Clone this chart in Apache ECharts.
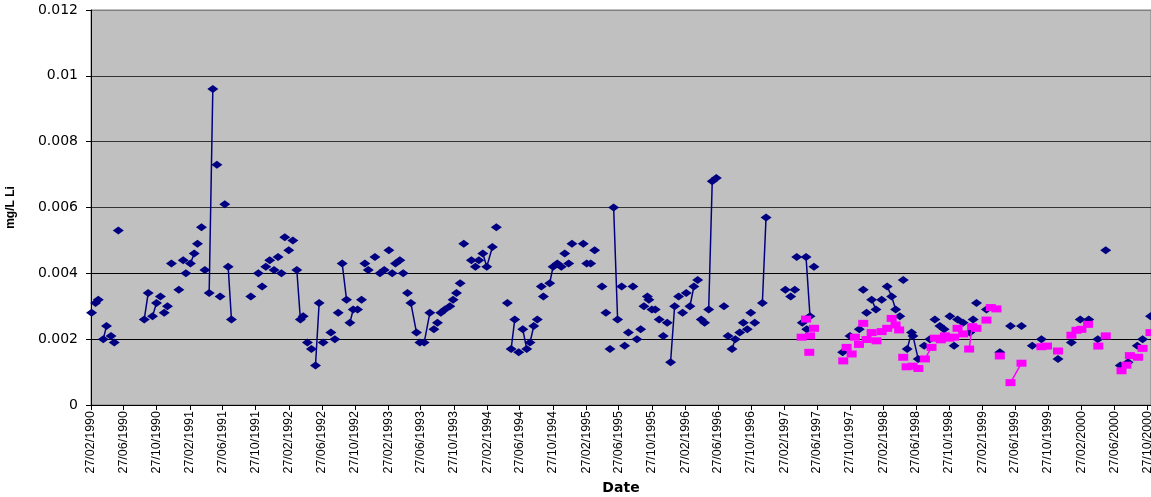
<!DOCTYPE html>
<html>
<head>
<meta charset="UTF-8">
<title>mg/L Li</title>
<script type="text/javascript" src="https://cdn.jsdelivr.net/npm/echarts@6/dist/echarts.min.js"></script>
</head>
<body style="margin: 0; overflow: hidden;">
<div id="container" style="width: 1151px; height: 497px;"></div>
<script type="text/javascript">
// sampling dates as decimal years, concentrations in mg/L Li
var navyYears = [
  1990.162, 1990.202, 1990.230, 1990.280, 1990.313, 1990.358, 1990.391, 1990.432, 1990.694, 1990.734,
  1990.778, 1990.818, 1990.858, 1990.896, 1990.929, 1990.969, 1991.044, 1991.088, 1991.115, 1991.161,
  1991.199, 1991.232, 1991.272, 1991.307, 1991.350, 1991.387, 1991.428, 1991.461, 1991.508, 1991.542,
  1991.575, 1991.771, 1991.847, 1991.885, 1991.922, 1991.962, 1992.006, 1992.046, 1992.080, 1992.114,
  1992.154, 1992.195, 1992.235, 1992.271, 1992.299, 1992.342, 1992.382, 1992.423, 1992.460, 1992.500,
  1992.578, 1992.618, 1992.652, 1992.692, 1992.736, 1992.770, 1992.803, 1992.847, 1992.887, 1992.921,
  1992.955, 1993.022, 1993.073, 1993.116, 1993.163, 1993.197, 1993.230, 1993.274, 1993.308, 1993.351,
  1993.385, 1993.442, 1993.476, 1993.520, 1993.577, 1993.618, 1993.654, 1993.688, 1993.729, 1993.779,
  1993.812, 1993.846, 1993.883, 1993.920, 1993.997, 1994.037, 1994.072, 1994.112, 1994.152, 1994.209,
  1994.249, 1994.360, 1994.398, 1994.435, 1994.475, 1994.516, 1994.556, 1994.589, 1994.627, 1994.663,
  1994.703, 1994.724, 1994.788, 1994.822, 1994.865, 1994.905, 1994.940, 1994.980, 1995.013, 1995.127,
  1995.162, 1995.202, 1995.242, 1995.316, 1995.356, 1995.397, 1995.434, 1995.474, 1995.515, 1995.545,
  1995.583, 1995.629, 1995.669, 1995.707, 1995.740, 1995.775, 1995.790, 1995.821, 1995.854, 1995.894,
  1995.935, 1995.975, 1996.009, 1996.050, 1996.090, 1996.130, 1996.167, 1996.204, 1996.244, 1996.282,
  1996.318, 1996.352, 1996.393, 1996.429, 1996.470, 1996.547, 1996.588, 1996.628, 1996.661, 1996.706,
  1996.742, 1996.782, 1996.817, 1996.857, 1996.934, 1996.971, 1997.166, 1997.220, 1997.261, 1997.281,
  1997.337, 1997.382, 1997.375, 1997.415, 1997.455, 1997.745, 1997.819, 1997.913, 1997.953, 1997.987,
  1998.038, 1998.081, 1998.139, 1998.195, 1998.240, 1998.280, 1998.323, 1998.357, 1998.397, 1998.441,
  1998.455, 1998.508, 1998.569, 1998.626, 1998.677, 1998.727, 1998.770, 1998.828, 1998.871, 1998.906,
  1998.962, 1999.030, 1999.063, 1999.097, 1999.198, 1999.333, 1999.441, 1999.552, 1999.661, 1999.753,
  1999.921, 2000.056, 2000.145, 2000.231, 2000.322, 2000.402, 2000.549, 2000.627, 2000.720, 2000.773,
  2000.853
];
var navyValues = [
  0.0028, 0.0031, 0.0032, 0.0020, 0.0024, 0.0021, 0.0019, 0.0053, 0.0026, 0.0034,
  0.0027, 0.0031, 0.0033, 0.0028, 0.0030, 0.0043, 0.0035, 0.0044, 0.0040, 0.0043,
  0.0046, 0.0049, 0.0054, 0.0041, 0.0034, 0.0096, 0.0073, 0.0033, 0.0061, 0.0042,
  0.0026, 0.0033, 0.0040, 0.0036, 0.0042, 0.0044, 0.0041, 0.0045, 0.0040, 0.0051,
  0.0047, 0.0050, 0.0041, 0.0026, 0.0027, 0.0019, 0.0017, 0.0012, 0.0031, 0.0019,
  0.0022, 0.0020, 0.0028, 0.0043, 0.0032, 0.0025, 0.0029, 0.0029, 0.0032, 0.0043,
  0.0041, 0.0045, 0.0040, 0.0041, 0.0047, 0.0040, 0.0043, 0.0044, 0.0040, 0.0034,
  0.0031, 0.0022, 0.0019, 0.0019, 0.0028, 0.0023, 0.0025, 0.0028, 0.0029, 0.0030,
  0.0032, 0.0034, 0.0037, 0.0049, 0.0044, 0.0042, 0.0044, 0.0046, 0.0042, 0.0048,
  0.0054, 0.0031, 0.0017, 0.0026, 0.0016, 0.0023, 0.0017, 0.0019, 0.0024, 0.0026,
  0.0036, 0.0033, 0.0037, 0.0042, 0.0043, 0.0042, 0.0046, 0.0043, 0.0049, 0.0049,
  0.0043, 0.0043, 0.0047, 0.0036, 0.0028, 0.0017, 0.0060, 0.0026, 0.0036, 0.0018,
  0.0022, 0.0036, 0.0020, 0.0023, 0.0030, 0.0033, 0.0032, 0.0029, 0.0029, 0.0026,
  0.0021, 0.0025, 0.0013, 0.0030, 0.0033, 0.0028, 0.0034, 0.0030, 0.0036, 0.0038,
  0.0026, 0.0025, 0.0029, 0.0068, 0.0069, 0.0030, 0.0021, 0.0017, 0.0020, 0.0022,
  0.0025, 0.0023, 0.0028, 0.0025, 0.0031, 0.0057, 0.0035, 0.0033, 0.0035, 0.0045,
  0.0025, 0.0023, 0.0045, 0.0027, 0.0042, 0.0016, 0.0021, 0.0023, 0.0035, 0.0028,
  0.0032, 0.0029, 0.0032, 0.0036, 0.0033, 0.0029, 0.0027, 0.0038, 0.0017, 0.0022,
  0.0021, 0.0014, 0.0018, 0.0020, 0.0026, 0.0024, 0.0023, 0.0027, 0.0018, 0.0026,
  0.0025, 0.0022, 0.0026, 0.0031, 0.0029, 0.0016, 0.0024, 0.0024, 0.0018, 0.0020,
  0.0014, 0.0019, 0.0026, 0.0026, 0.0020, 0.0047, 0.0012, 0.0013, 0.0018, 0.0020,
  0.0027
];
// indices of samples joined by a line to the sample before them
var navyJoined = [4, 9, 11, 20, 25, 30, 43, 44, 48, 54, 56, 57, 67, 71, 73, 74, 78, 88, 89, 93,
  96, 98, 103, 117, 133, 138, 141, 143, 144, 148, 155, 163, 171, 174, 175, 179, 180, 181, 186];

var pinkYears = [
  1997.331, 1997.375, 1997.408, 1997.415, 1997.455, 1997.751, 1997.785, 1997.836, 1997.869, 1997.910,
  1997.953, 1997.987, 1998.038, 1998.087, 1998.139, 1998.195, 1998.240, 1998.280, 1998.316, 1998.357,
  1998.391, 1998.452, 1998.510, 1998.576, 1998.643, 1998.677, 1998.737, 1998.778, 1998.823, 1998.871,
  1998.906, 1998.962, 1999.023, 1999.053, 1999.097, 1999.198, 1999.242, 1999.299, 1999.333, 1999.441,
  1999.552, 1999.753, 1999.810, 1999.921, 2000.056, 2000.107, 2000.157, 2000.224, 2000.327, 2000.402,
  2000.561, 2000.611, 2000.645, 2000.728, 2000.773, 2000.853
];
var pinkValues = [
  0.00206, 0.00261, 0.00160, 0.00210, 0.00233, 0.00134, 0.00175, 0.00155, 0.00206, 0.00184,
  0.00248, 0.00199, 0.00220, 0.00195, 0.00223, 0.00233, 0.00263, 0.00243, 0.00228, 0.00145,
  0.00116, 0.00118, 0.00111, 0.00140, 0.00175, 0.00203, 0.00198, 0.00210, 0.00203, 0.00206,
  0.00233, 0.00216, 0.00170, 0.00238, 0.00233, 0.00258, 0.00296, 0.00292, 0.00149, 0.00068,
  0.00127, 0.00177, 0.00179, 0.00164, 0.00212, 0.00227, 0.00230, 0.00245, 0.00179, 0.00210,
  0.00104, 0.00121, 0.00150, 0.00145, 0.00172, 0.00220
];
var pinkJoined = [24, 33, 40];

var tickLabels = [
  '27/02/1990', '27/06/1990', '27/10/1990', '27/02/1991', '27/06/1991', '27/10/1991',
  '27/02/1992', '27/06/1992', '27/10/1992', '27/02/1993', '27/06/1993', '27/10/1993',
  '27/02/1994', '27/06/1994', '27/10/1994', '27/02/1995', '27/06/1995', '27/10/1995',
  '27/02/1996', '27/06/1996', '27/10/1996', '27/02/1997', '27/06/1997', '27/10/1997',
  '27/02/1998', '27/06/1998', '27/10/1998', '27/02/1999', '27/06/1999', '27/10/1999',
  '27/02/2000', '27/06/2000', '27/10/2000'
];

function yearToTime(y) {
  var Y = Math.floor(y);
  var a = Date.UTC(Y, 0, 1), b = Date.UTC(Y + 1, 0, 1);
  return a + (y - Y) * (b - a);
}
function labelToTime(s) {
  var p = s.split('/');
  return Date.UTC(+p[2], +p[1] - 1, +p[0]);
}
function pad(n) { return n < 10 ? '0' + n : '' + n; }
function timeToLabel(t) {
  var d = new Date(t);
  return pad(d.getUTCDate()) + '/' + pad(d.getUTCMonth() + 1) + '/' + d.getUTCFullYear();
}
// unjoined samples get a gap item in front of them
function buildData(years, values, joined) {
  var out = [];
  for (var i = 0; i < years.length; i++) {
    var t = yearToTime(years[i]);
    if (i > 0 && joined.indexOf(i) < 0) out.push([t, '-']);
    out.push([t, values[i]]);
  }
  return out;
}

var tickTimes = tickLabels.map(labelToTime);

var dom = document.getElementById('container');
var myChart = echarts.init(dom);

var option = {
  animation: false,
  grid: {
    left: 91,
    right: 0,
    top: 10,
    bottom: 92,
    outerBoundsMode: 'none',
    containLabel: false,
    show: true,
    backgroundColor: '#C0C0C0',
    borderColor: '#808080',
    borderWidth: 1
  },
  xAxis: {
    type: 'value',
    min: tickTimes[0],
    max: yearToTime(2000.858),
    name: 'Date',
    nameLocation: 'middle',
    nameGap: 76,
    nameTextStyle: { fontFamily: 'DejaVu Sans', fontWeight: 'bold', fontSize: 14, color: '#000' },
    axisLine: { lineStyle: { color: '#000', width: 1 } },
    axisTick: { show: true, length: 5, customValues: tickTimes, lineStyle: { color: '#000' } },
    axisLabel: {
      customValues: tickTimes,
      rotate: 90,
      margin: 6,
      fontFamily: 'Liberation Sans',
      fontSize: 12.5,
      color: '#000',
      formatter: function (v) { return timeToLabel(v); }
    },
    splitLine: { show: false }
  },
  yAxis: {
    type: 'value',
    min: 0,
    max: 0.012,
    interval: 0.002,
    name: 'mg/L Li',
    nameLocation: 'middle',
    nameRotate: 90,
    nameGap: 74,
    nameTextStyle: { fontFamily: 'Liberation Sans', fontWeight: 'bold', fontSize: 12, color: '#000' },
    axisLine: { show: true, lineStyle: { color: '#000', width: 1 } },
    axisTick: { show: true, length: 5, lineStyle: { color: '#000' } },
    axisLabel: { margin: 13, fontFamily: 'DejaVu Sans', fontSize: 14, color: '#000' },
    splitLine: {
      show: true,
      lineStyle: { color: ['#000', '#000', '#000', '#333', '#333', '#333', '#808080'], width: 1 }
    }
  },
  series: [
    {
      name: 'navy',
      type: 'line',
      data: buildData(navyYears, navyValues, navyJoined),
      symbol: 'diamond',
      symbolSize: [11, 8],
      showAllSymbol: true,
      connectNulls: false,
      itemStyle: { color: '#000080' },
      lineStyle: { color: '#000080', width: 1.5 },
      silent: true,
      z: 2
    },
    {
      name: 'pink',
      type: 'line',
      data: buildData(pinkYears, pinkValues, pinkJoined),
      symbol: 'rect',
      symbolSize: [10, 7],
      showAllSymbol: true,
      connectNulls: false,
      itemStyle: { color: '#FF00FF' },
      lineStyle: { color: '#FF00FF', width: 1.5 },
      silent: true,
      z: 3
    }
  ]
};

myChart.setOption(option);
</script>
</body>
</html>
